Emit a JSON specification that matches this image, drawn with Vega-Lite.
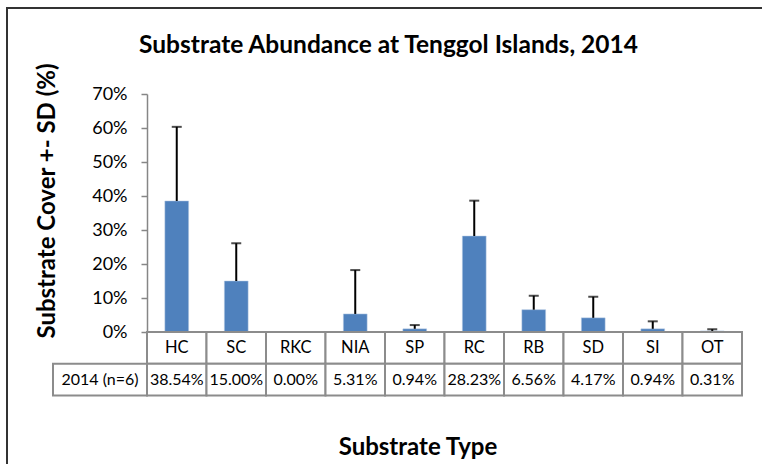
{
  "$schema": "https://vega.github.io/schema/vega-lite/v6.json",
  "autosize": {"type": "none"},
  "padding": {"left": 7, "top": 8, "right": 0, "bottom": 0},
  "width": 763,
  "height": 464,
  "background": "white",
  "config": {
    "view": {"stroke": "#333333", "strokeWidth": 2},
    "font": "Lato"
  },
  "title": {
    "text": "Substrate Abundance at Tenggol Islands, 2014",
    "font": "Lato",
    "fontSize": 24.5,
    "fontWeight": "bold",
    "color": "black",
    "anchor": "middle",
    "frame": "group",
    "baseline": "middle",
    "offset": 0,
    "dx": 0,
    "dy": 62
  },
  "datasets": {
    "cover": [
      {"type": "HC", "value": 0.3854, "sd": 0.218},
      {"type": "SC", "value": 0.15, "sd": 0.111},
      {"type": "RKC", "value": 0.0, "sd": 0.0},
      {"type": "NIA", "value": 0.0531, "sd": 0.129},
      {"type": "SP", "value": 0.0094, "sd": 0.011},
      {"type": "RC", "value": 0.2823, "sd": 0.104},
      {"type": "RB", "value": 0.0656, "sd": 0.041},
      {"type": "SD", "value": 0.0417, "sd": 0.062},
      {"type": "SI", "value": 0.0094, "sd": 0.022},
      {"type": "OT", "value": 0.0031, "sd": 0.005}
    ],
    "series": [{"series": "2014 (n=6)"}]
  },
  "layer": [
    {
      "data": {"name": "cover"},
      "layer": [
        {
          "mark": {"type": "bar", "width": {"band": 0.4}, "color": "#4f81bd", "stroke": "#b9cde5", "strokeWidth": 0.5},
          "encoding": {
            "x": {
              "field": "type", "type": "nominal", "sort": null,
              "scale": {"range": [140, 735], "paddingInner": 0, "paddingOuter": 0},
              "axis": {
                "title": "Substrate Type", "labels": false, "ticks": false, "domain": false, "grid": false,
                "titleFont": "Lato", "titleFontSize": 24, "titleFontWeight": "bold", "titleColor": "black",
                "titleX": 410.5, "titleY": -25, "titleAlign": "center", "titleBaseline": "middle"
              }
            },
            "y": {
              "field": "value", "type": "quantitative",
              "scale": {"domain": [0, 0.7], "range": [324, 86], "nice": false, "zero": true},
              "axis": {
                "title": "Substrate Cover +- SD (%)",
                "values": [0, 0.1, 0.2, 0.3, 0.4, 0.5, 0.6, 0.7],
                "format": ".0%",
                "offset": -140,
                "grid": false,
                "domainColor": "#868686", "domainWidth": 1.5,
                "tickColor": "#868686", "tickWidth": 1.5, "tickSize": 6,
                "labelFont": "Lato", "labelFontSize": 18, "labelColor": "black", "labelPadding": 14,
                "titleFont": "Lato", "titleFontSize": 24, "titleFontWeight": "bold", "titleColor": "black",
                "titleAngle": -90, "titleX": -100, "titleY": 192.5, "titleAlign": "center", "titleBaseline": "middle"
              }
            }
          }
        },
        {
          "transform": [
            {"filter": "datum.sd > 0"},
            {"calculate": "datum.value + datum.sd", "as": "upper"}
          ],
          "mark": {"type": "rule", "color": "black", "strokeWidth": 2},
          "encoding": {
            "x": {"field": "type", "type": "nominal", "sort": null},
            "y": {"field": "value", "type": "quantitative"},
            "y2": {"field": "upper"}
          }
        },
        {
          "transform": [
            {"filter": "datum.sd > 0"},
            {"calculate": "datum.value + datum.sd", "as": "upper"}
          ],
          "mark": {"type": "tick", "color": "black", "thickness": 2, "size": 10, "orient": "horizontal"},
          "encoding": {
            "x": {"field": "type", "type": "nominal", "sort": null},
            "y": {"field": "upper", "type": "quantitative"}
          }
        }
      ]
    },
    {
      "data": {"name": "cover"},
      "encoding": {
        "x": {
          "field": "type", "type": "nominal", "sort": null,
          "scale": {"range": [140, 735], "paddingInner": 0, "paddingOuter": 0},
          "axis": null
        }
      },
      "layer": [
        {
          "mark": {"type": "rect", "fill": "white", "stroke": "#8c8c8c", "strokeWidth": 2},
          "encoding": {
            "y": {"datum": "Substrate Type", "type": "nominal",
                  "scale": {"domain": ["Substrate Type", "2014 (n=6)"], "range": [324, 387.5], "paddingInner": 0, "paddingOuter": 0},
                  "axis": null}
          }
        },
        {
          "mark": {"type": "rect", "fill": "white", "stroke": "#8c8c8c", "strokeWidth": 2},
          "encoding": {
            "y": {"datum": "2014 (n=6)", "type": "nominal"}
          }
        },
        {
          "mark": {"type": "text", "font": "Lato", "fontSize": 16.5, "color": "black", "baseline": "middle"},
          "encoding": {
            "y": {"datum": "Substrate Type", "type": "nominal"},
            "text": {"field": "type", "type": "nominal"}
          }
        },
        {
          "mark": {"type": "text", "font": "Lato", "fontSize": 16, "color": "black", "baseline": "middle"},
          "encoding": {
            "y": {"datum": "2014 (n=6)", "type": "nominal"},
            "text": {"field": "value", "type": "quantitative", "format": ".2%"}
          }
        }
      ]
    },
    {
      "data": {"name": "series"},
      "encoding": {
        "x": {
          "field": "series", "type": "nominal",
          "scale": {"range": [46, 140], "paddingInner": 0, "paddingOuter": 0},
          "axis": null
        },
        "y": {"datum": "2014 (n=6)", "type": "nominal",
              "scale": {"domain": ["Substrate Type", "2014 (n=6)"], "range": [324, 387.5], "paddingInner": 0, "paddingOuter": 0},
              "axis": null}
      },
      "layer": [
        {"mark": {"type": "rect", "fill": "white", "stroke": "#8c8c8c", "strokeWidth": 2}},
        {
          "mark": {"type": "text", "font": "Lato", "fontSize": 16, "color": "black", "baseline": "middle"},
          "encoding": {"text": {"field": "series", "type": "nominal"}}
        }
      ]
    }
  ],
  "resolve": {"scale": {"x": "independent", "y": "independent"}}
}
